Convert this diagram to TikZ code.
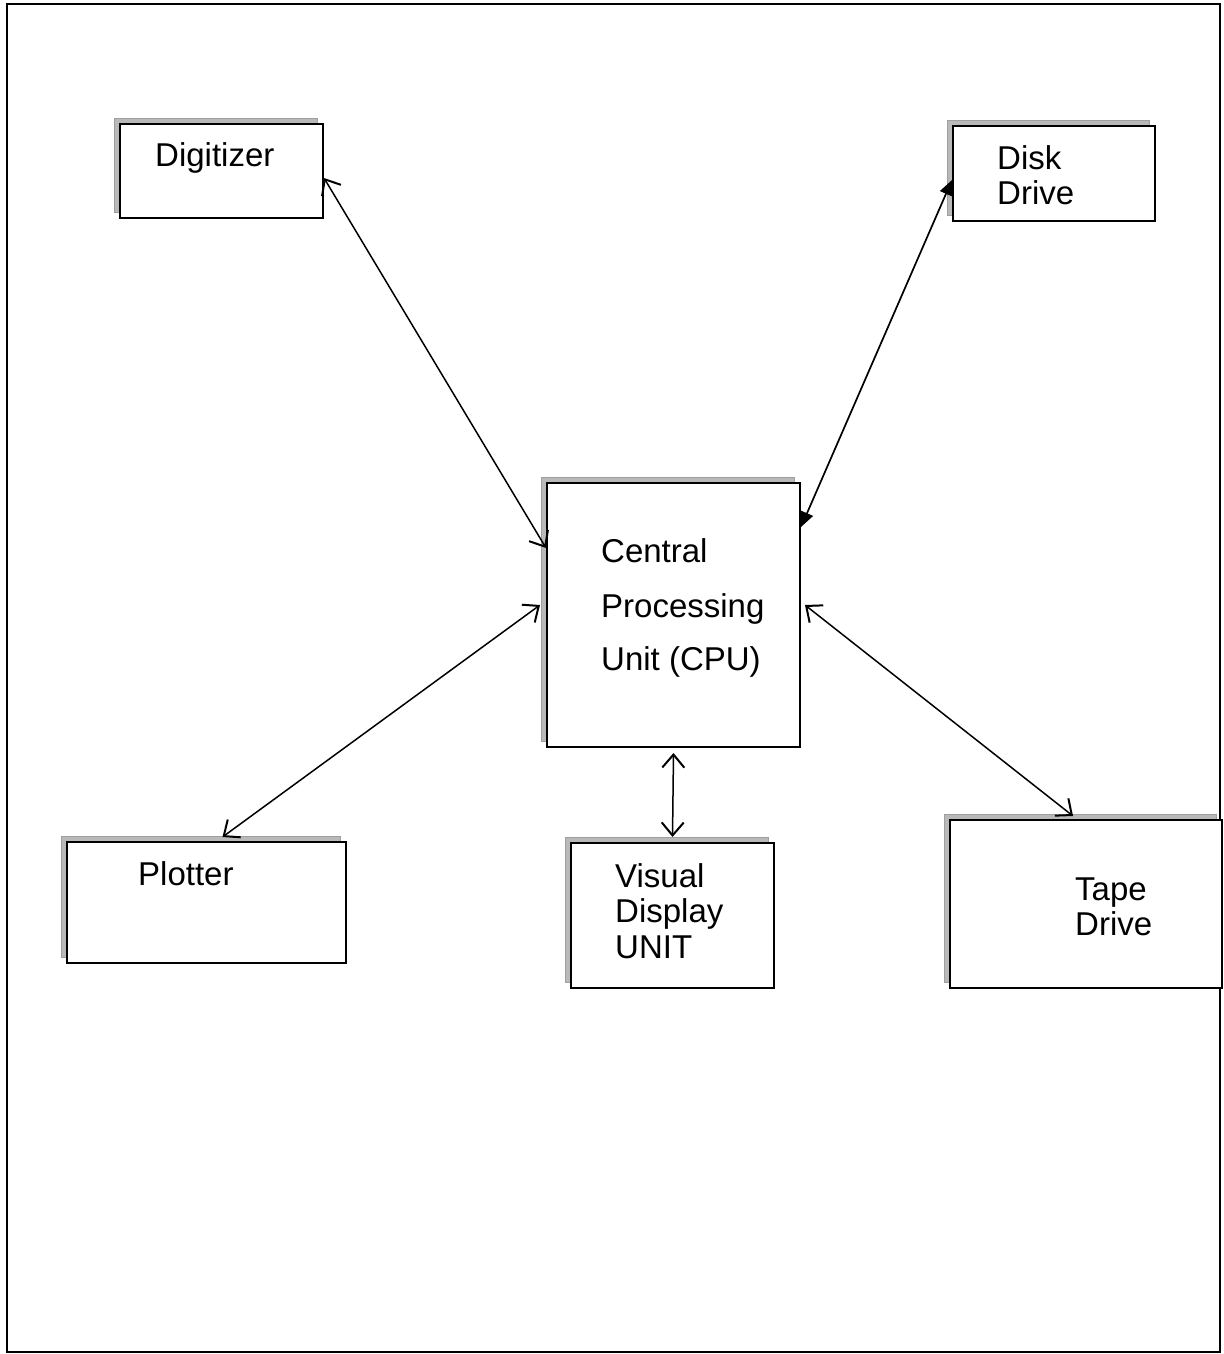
\documentclass[tikz,border=0pt]{standalone}
\usepackage{fontspec}
\setmainfont{Liberation Sans}
\usetikzlibrary{arrows.meta,shadows}
\begin{document}
\begin{tikzpicture}[x=1pt,y=-1pt,
  box/.style={draw=black, line width=2pt, fill=white, inner sep=0pt,
    copy shadow={shadow xshift=-6pt, shadow yshift=6pt, fill=gray!55, draw=gray!75, line width=1pt}},
  lbl/.style={anchor=base west, inner sep=0pt, font=\fontsize{33}{36}\selectfont},
  link/.style={line width=1.5pt, {Straight Barb[length=13pt,width=22pt,line width=2pt]}-{Straight Barb[length=13pt,width=22pt,line width=2pt]}},
  flink/.style={line width=1.7pt, {Triangle[length=15pt,width=13pt]}-{Triangle[length=15pt,width=13pt]}}]
\useasboundingbox (0,0) rectangle (1223,1354);
\draw[line width=1.6pt] (7,4) rectangle (1220,1352);

\node[box, minimum width=203pt, minimum height=94pt] (dig) at (221.5,171) {};
\node[box, minimum width=202pt, minimum height=95pt] (disk) at (1054,173.5) {};
\node[box, minimum width=253pt, minimum height=264pt] (cpu) at (673.5,615) {};
\node[box, minimum width=279pt, minimum height=121pt] (plot) at (206.5,902.5) {};
\node[box, minimum width=203pt, minimum height=145pt] (vdu) at (672.5,915.5) {};
\node[box, minimum width=272pt, minimum height=168pt] (tape) at (1086,904) {};

\node[lbl] (t1) at (155,166) {Digitizer};
\node[lbl] (t2) at (997,169) {Disk};
\node[lbl] (t3) at (997,204) {Drive};
\node[lbl] (t4) at (601,562) {Central};
\node[lbl] (t5) at (601,617) {Processing};
\node[lbl] (t6) at (601,670) {Unit (CPU)};
\node[lbl] (t7) at (138,885) {Plotter};
\node[lbl] (t8) at (615,887) {Visual};
\node[lbl] (t9) at (615,922) {Display};
\node[lbl] (t10) at (615,958) {UNIT};
\node[lbl] (t11) at (1075,900) {Tape};
\node[lbl] (t12) at (1075,935) {Drive};

\draw[link] ([yshift=-7pt]dig.east) -- ([yshift=67pt]cpu.west);
\draw[flink] ([yshift=-6.5pt]disk.west) -- ([yshift=88pt]cpu.east);
\draw[link] ([xshift=16pt,yshift=4pt]plot.north) -- ([xshift=-6pt,yshift=10pt]cpu.west);
\draw[link] ([xshift=4pt,yshift=10pt]cpu.east) -- ([xshift=-13pt,yshift=3pt]tape.north);
\draw[link] ([yshift=-5pt]cpu.south) -- ([yshift=5pt]vdu.north);
\end{tikzpicture}
\end{document}
